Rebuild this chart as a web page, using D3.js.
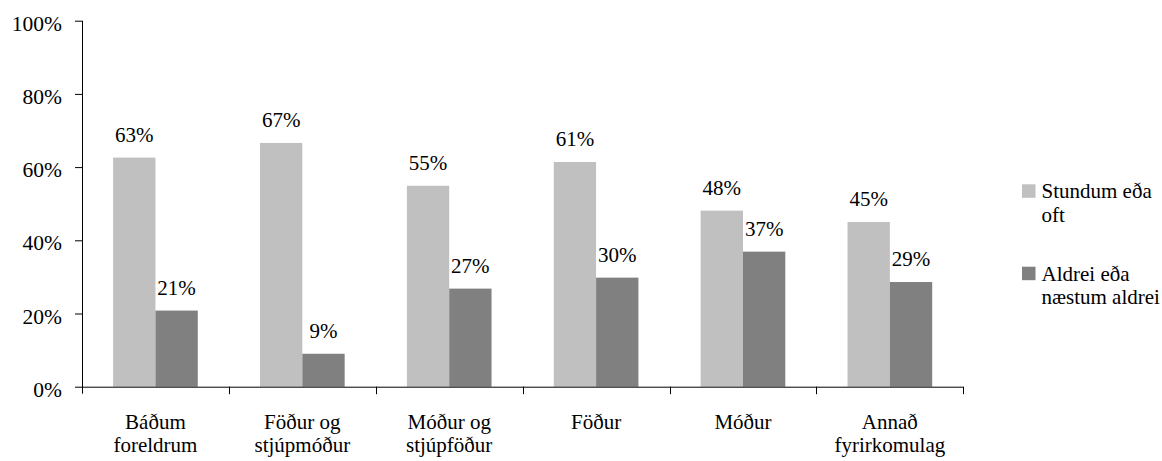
<!DOCTYPE html>
<html>
<head>
<meta charset="utf-8">
<script src="https://cdn.jsdelivr.net/npm/d3@7"></script>
<style>
  html, body { margin: 0; padding: 0; background: #fff; }
</style>
</head>
<body>
<svg id="chart" width="1162" height="461"></svg>
<script>
const categories = [
  ["Báðum", "foreldrum"],
  ["Föður og", "stjúpmóður"],
  ["Móður og", "stjúpföður"],
  ["Föður"],
  ["Móður"],
  ["Annað", "fyrirkomulag"]
];
const seriesNames = [["Stundum eða", "oft"], ["Aldrei eða", "næstum aldrei"]];
const seriesOften = [62.6, 66.6, 54.9, 61.4, 48.1, 45.0];
const seriesNever = [20.8, 9.0, 26.8, 29.8, 36.9, 28.6];
const yTicks = [0, 20, 40, 60, 80, 100];
const colors = ["#c0c0c0", "#808080"];
const FONT = "Liberation Serif";

const svg = d3.select("#chart");
const plotLeft = 82, plotRight = 963.3, plotTop = 20.7, plotBottom = 386.7;

const catKeys = categories.map((c, i) => i);
const x0 = d3.scaleBand().domain(catKeys).range([plotLeft, plotRight]).paddingInner(0).paddingOuter(0);
const x1 = d3.scaleBand().domain([0, 1]).range([0, x0.bandwidth()]).paddingInner(0).paddingOuter(0.735);
const y = d3.scaleLinear().domain([0, 100]).range([plotBottom, plotTop]);

const data = [seriesOften, seriesNever];

// bars
data.forEach((vals, s) => {
  svg.append("g").selectAll("rect").data(vals).join("rect")
    .attr("x", (d, i) => x0(i) + x1(s))
    .attr("y", d => y(d))
    .attr("width", x1.bandwidth())
    .attr("height", d => plotBottom - y(d))
    .attr("fill", colors[s]);
  svg.append("g").selectAll("text").data(vals).join("text")
    .attr("x", (d, i) => x0(i) + x1(s) + x1.bandwidth() / 2)
    .attr("y", d => y(d) - 16)
    .attr("text-anchor", "middle")
    .attr("font-family", FONT)
    .attr("font-size", 21)
    .attr("fill", "#000")
    .text(d => Math.round(d) + "%");
});

// y axis
const yAxis = d3.axisLeft(y).tickValues(yTicks).tickSize(7).tickSizeOuter(0).tickPadding(13)
  .tickFormat(d => d + "%");
const gy = svg.append("g").attr("transform", `translate(${plotLeft},0)`).call(yAxis)
  .attr("font-family", FONT).attr("font-size", 21.5);
gy.select(".domain").attr("stroke", "#000").attr("d", `M0.5,${plotTop}V${plotBottom + 7}`);
gy.selectAll(".tick line").attr("stroke", "#000");
gy.selectAll(".tick text").attr("dy", null).attr("y", 0)
  .attr("transform", "translate(0,9.5)")
  .attr("font-family", FONT).attr("font-size", 21.5).attr("fill", "#000");

// x axis (boundary ticks)
const boundaries = catKeys.map(i => x0(i) + x0.bandwidth()).filter(v => v > plotLeft);
const gx = svg.append("g");
gx.append("line").attr("x1", plotLeft).attr("x2", plotRight).attr("y1", plotBottom + 0.5).attr("y2", plotBottom + 0.5)
  .attr("stroke", "#000");
gx.selectAll("line.tk").data(boundaries).join("line").attr("class", "tk")
  .attr("x1", d => Math.round(d) + 0.5).attr("x2", d => Math.round(d) + 0.5)
  .attr("y1", plotBottom).attr("y2", plotBottom + 7.5).attr("stroke", "#000");

// category labels
const cl = svg.append("g").selectAll("text").data(categories).join("text")
  .attr("text-anchor", "middle")
  .attr("x", (d, i) => x0(i) + x0.bandwidth() / 2)
  .attr("y", 428.5)
  .attr("font-family", FONT).attr("font-size", 21).attr("fill", "#000");
cl.selectAll("tspan").data(d => d).join("tspan")
  .attr("x", function() { return d3.select(this.parentNode).attr("x"); })
  .attr("dy", (d, j) => j === 0 ? 0 : 23.2)
  .text(d => d);

// legend
const legendY = [184.3, 266.7];
seriesNames.forEach((name, s) => {
  const g = svg.append("g");
  g.append("rect").attr("x", 1022).attr("y", legendY[s]).attr("width", 13.5).attr("height", 13.5)
    .attr("fill", colors[s]);
  const t = g.append("text").attr("x", 1041.5).attr("y", legendY[s] + 13.8)
    .attr("font-family", FONT).attr("font-size", 21).attr("fill", "#000");
  t.selectAll("tspan").data(name).join("tspan")
    .attr("x", 1041.5).attr("dy", (d, j) => j === 0 ? 0 : 23.5).text(d => d);
});
</script>
</body>
</html>
